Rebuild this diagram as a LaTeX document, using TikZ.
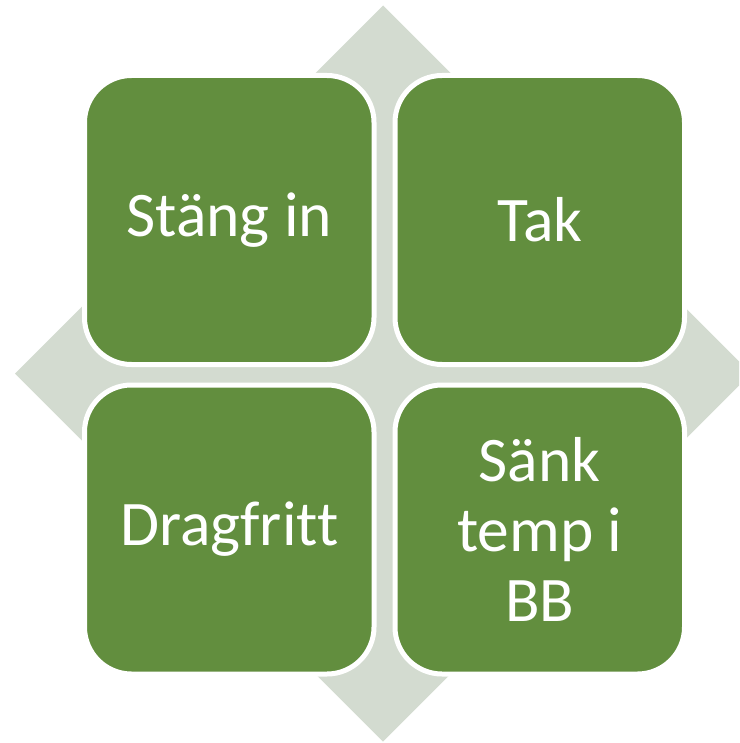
\documentclass[tikz,border=0pt]{standalone}
\usepackage{fontspec}
\setmainfont{Carlito}[Ligatures={NoCommon,TeX}]
\definecolor{cellgreen}{HTML}{628E3E}
\definecolor{diamondgrey}{HTML}{D3DBD0}
\tikzset{
  cell/.style={draw=white, line width=5pt, fill=cellgreen, rounded corners=47pt,
    minimum width=289.5pt, minimum height=289pt, inner sep=0pt,
    text=white, align=center, font=\fontsize{63.5pt}{70pt}\selectfont}
}
\begin{document}
\begin{tikzpicture}[x=1pt,y=-1pt]
\useasboundingbox (0,0) rectangle (739,743);
\begin{scope}
\clip (0,0) rectangle (739,743);
\fill[diamondgrey] (383,5.5) -- (751,373.5) -- (383,741.5) -- (15,373.5) -- cycle;
\end{scope}
\node[cell] (tl) at (229.25,220) {Stäng in};
\node[cell] (tr) at (539.75,220) {Tak};
\node[cell] (bl) at (229.25,529.5) {Dragfritt};
\node[cell] (br) at (539.75,529.5) {Sänk\\temp i\\BB};
\end{tikzpicture}
\end{document}
